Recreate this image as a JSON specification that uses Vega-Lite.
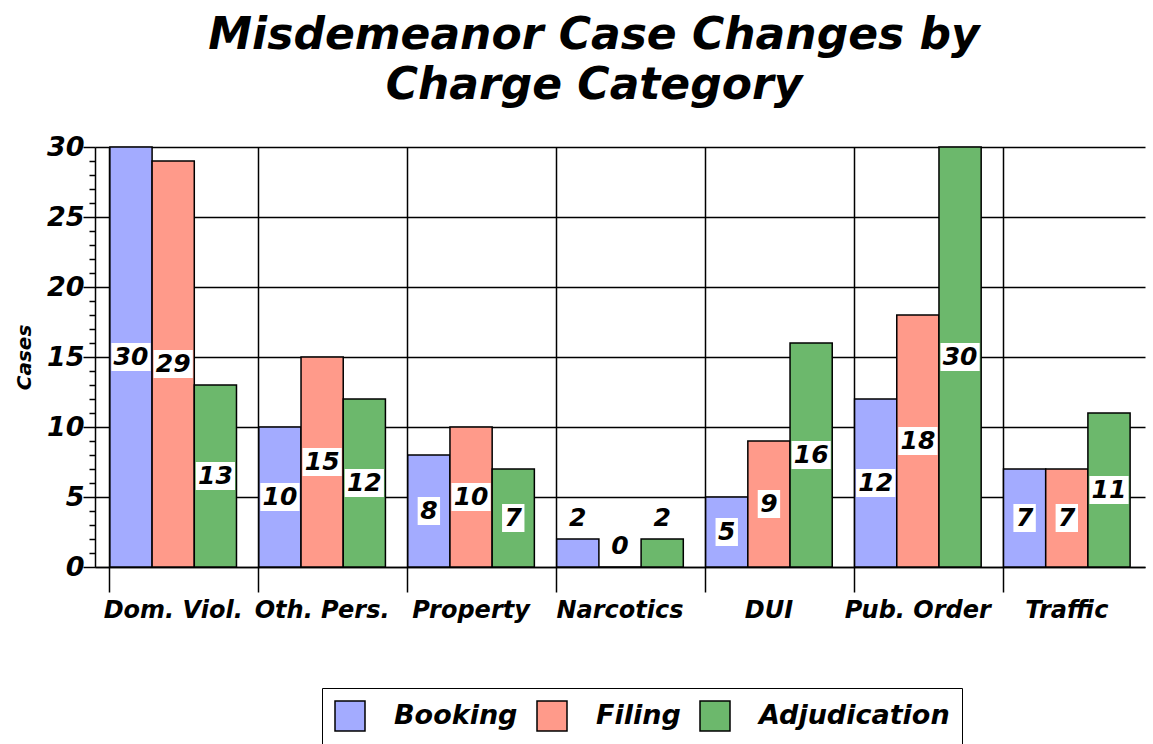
{
  "$schema": "https://vega.github.io/schema/vega-lite/v6.json",
  "width": 1050,
  "height": 420,
  "autosize": {"type": "none"},
  "padding": {"left": 95, "top": 147, "right": 8, "bottom": 177},
  "background": "white",
  "title": {
    "text": ["Misdemeanor Case Changes by", "Charge Category"],
    "font": "DejaVu Sans",
    "fontSize": 44,
    "fontWeight": "bold",
    "fontStyle": "italic",
    "color": "black",
    "anchor": "middle",
    "frame": "group",
    "dx": -26,
    "offset": 25,
    "lineHeight": 50
  },
  "config": {"view": {"stroke": null}, "font": "DejaVu Sans"},
  "data": {
    "values": [
      {"category": "Dom. Viol.", "stage": "Booking", "value": 30},
      {"category": "Dom. Viol.", "stage": "Filing", "value": 29},
      {"category": "Dom. Viol.", "stage": "Adjudication", "value": 13},
      {"category": "Oth. Pers.", "stage": "Booking", "value": 10},
      {"category": "Oth. Pers.", "stage": "Filing", "value": 15},
      {"category": "Oth. Pers.", "stage": "Adjudication", "value": 12},
      {"category": "Property", "stage": "Booking", "value": 8},
      {"category": "Property", "stage": "Filing", "value": 10},
      {"category": "Property", "stage": "Adjudication", "value": 7},
      {"category": "Narcotics", "stage": "Booking", "value": 2},
      {"category": "Narcotics", "stage": "Filing", "value": 0},
      {"category": "Narcotics", "stage": "Adjudication", "value": 2},
      {"category": "DUI", "stage": "Booking", "value": 5},
      {"category": "DUI", "stage": "Filing", "value": 9},
      {"category": "DUI", "stage": "Adjudication", "value": 16},
      {"category": "Pub. Order", "stage": "Booking", "value": 12},
      {"category": "Pub. Order", "stage": "Filing", "value": 18},
      {"category": "Pub. Order", "stage": "Adjudication", "value": 30},
      {"category": "Traffic", "stage": "Booking", "value": 7},
      {"category": "Traffic", "stage": "Filing", "value": 7},
      {"category": "Traffic", "stage": "Adjudication", "value": 11}
    ]
  },
  "transform": [
    {"calculate": "datum.value < 4 ? datum.value + 1.5 : datum.value / 2", "as": "labelPos"}
  ],
  "encoding": {
    "x": {
      "field": "category",
      "type": "nominal",
      "sort": ["Dom. Viol.", "Oth. Pers.", "Property", "Narcotics", "DUI", "Pub. Order", "Traffic"],
      "scale": {"paddingInner": 0.15, "paddingOuter": 0.1},
      "axis": {
        "title": null,
        "bandPosition": 0,
        "labelDx": 75,
        "labelAngle": 0,
        "labelFont": "DejaVu Sans",
        "labelFontSize": 24,
        "labelFontWeight": "bold",
        "labelFontStyle": "italic",
        "labelColor": "black",
        "labelPadding": 6,
        "labelOverlap": false,
        "tickSize": 25,
        "tickColor": "black",
        "tickWidth": 1.5,
        "domainColor": "black",
        "domainWidth": 1.5,
        "grid": true,
        "gridColor": "black",
        "gridWidth": 1.5
      }
    },
    "xOffset": {"field": "stage", "type": "nominal", "sort": ["Booking", "Filing", "Adjudication"]},
    "y": {
      "field": "value",
      "type": "quantitative",
      "scale": {"domain": [0, 30], "nice": false},
      "axis": {
        "title": "Cases",
        "titleFont": "DejaVu Sans",
        "titleFontSize": 20,
        "titleFontWeight": "bold",
        "titleFontStyle": "italic",
        "titleColor": "black",
        "titlePadding": 12,
        "values": [0,1,2,3,4,5,6,7,8,9,10,11,12,13,14,15,16,17,18,19,20,21,22,23,24,25,26,27,28,29,30],
        "labelExpr": "datum.value % 5 === 0 ? datum.label : ''",
        "labelFont": "DejaVu Sans",
        "labelFontSize": 27,
        "labelFontWeight": "bold",
        "labelFontStyle": "italic",
        "labelColor": "black",
        "labelPadding": -1,
        "labelOverlap": false,
        "tickSize": {"condition": {"test": "datum.value % 5 === 0", "value": 12}, "value": 6},
        "tickColor": "black",
        "tickWidth": 1.5,
        "domainColor": "black",
        "domainWidth": 1.5,
        "grid": true,
        "gridColor": "black",
        "gridWidth": 1.5,
        "gridOpacity": {"condition": {"test": "datum.value % 5 === 0", "value": 1}, "value": 0}
      }
    }
  },
  "layer": [
    {
      "mark": {"type": "bar", "stroke": "black", "strokeWidth": 1.5},
      "encoding": {
        "fill": {
          "field": "stage",
          "type": "nominal",
          "scale": {"domain": ["Booking", "Filing", "Adjudication"], "range": ["#a3abff", "#ff9a8a", "#6cb86c"]},
          "legend": {
            "title": null,
            "orient": "none",
            "legendX": 227,
            "legendY": 541,
            "direction": "horizontal",
            "symbolType": "square",
            "symbolSize": 900,
            "symbolStrokeColor": "black",
            "symbolStrokeWidth": 1.5,
            "symbolOpacity": 1,
            "labelFont": "DejaVu Sans",
            "labelFontSize": 27,
            "labelFontWeight": "bold",
            "labelFontStyle": "italic",
            "labelColor": "black",
            "labelLimit": 400,
            "labelOffset": 28,
            "columnPadding": 16,
            "padding": 12,
            "strokeColor": "black",
            "fillColor": "white"
          }
        }
      }
    },
    {
      "mark": {"type": "point", "filled": true, "color": "white", "opacity": 1, "strokeWidth": 0},
      "encoding": {
        "y": {"field": "labelPos", "type": "quantitative"},
        "shape": {"condition": {"test": "datum.value < 10", "value": "M-0.8,-1H0.8V1H-0.8Z"}, "value": "M-1.4,-1H1.4V1H-1.4Z"},
        "size": {"value": 784}
      }
    },
    {
      "mark": {"type": "text", "font": "DejaVu Sans", "fontSize": 25, "fontWeight": "bold", "fontStyle": "italic", "color": "black", "baseline": "middle", "align": "center"},
      "encoding": {
        "y": {"field": "labelPos", "type": "quantitative"},
        "text": {"field": "value", "type": "quantitative"}
      }
    }
  ]
}
